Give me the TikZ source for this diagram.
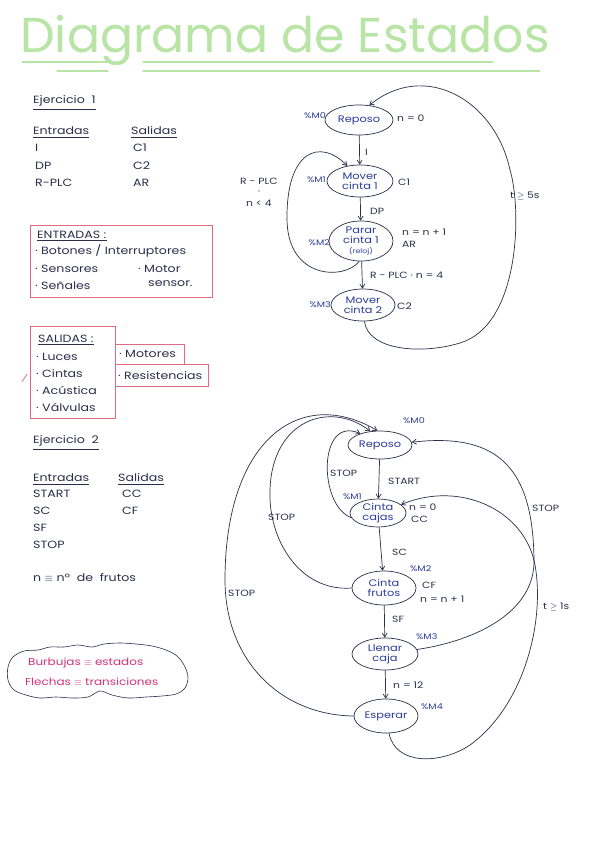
\documentclass[tikz,border=0pt]{standalone}
\usepackage{fontspec}
\setmainfont{Poppins}[FakeStretch=1.2]
\newfontfamily\titlefont{Poppins}
\usetikzlibrary{shapes.geometric,arrows.meta}
\definecolor{ink}{HTML}{2B2F4A}
\definecolor{navy}{HTML}{2C3C9A}
\definecolor{boxred}{HTML}{E06A80}
\definecolor{titlegreen}{HTML}{B8E4A6}
\definecolor{bubblemag}{HTML}{D2337A}
\tikzset{
  state/.style={ellipse, draw=ink, line width=0.7pt, inner sep=0pt, text=navy,
    font=\fontsize{9.5}{10}\selectfont, align=center},
  arr/.style={draw=ink, line width=0.7pt, -{Straight Barb[length=4pt,width=5pt]}},
  lbl/.style={text=ink, font=\fontsize{9}{10}\selectfont, inner sep=0pt, anchor=west},
  mlbl/.style={text=navy, font=\fontsize{8}{9}\selectfont, inner sep=0pt},
  txt/.style={text=ink, font=\fontsize{10.5}{12}\selectfont, anchor=west, inner sep=0pt},
  ul/.style={draw=ink, line width=0.5pt},
  redbox/.style={draw=boxred, line width=0.8pt},
  tl/.style={draw=titlegreen, line width=1.3pt, line cap=round},
}
\begin{document}
\begin{tikzpicture}[x=1pt,y=-1pt]
\useasboundingbox (0,0) rectangle (599,848);
\fill[white] (0,0) rectangle (599,848);

% title
\node[text=titlegreen, font=\titlefont\fontsize{49}{54}\selectfont, anchor=base, inner sep=0pt] (title) at (285,53) {Diagrama de Estados};
\draw[tl] (22,62) -- (108,62);
\draw[tl] (143,62) -- (493,62);
\draw[tl] (57,71) -- (108,71);
\draw[tl] (143,71) -- (540,71);

% Ejercicio 1 text
\node[txt] (ej1) at (33,101) {Ejercicio\ \ 1};
\draw[ul] ([yshift=-2.5pt]ej1.south west) -- ([yshift=-2.5pt]ej1.south east);
\node[txt] (en1) at (33,131) {Entradas};
\draw[ul] ([yshift=-2pt]en1.south west) -- ([yshift=-2pt]en1.south east);
\node[txt] (sa1) at (131,131) {Salidas};
\draw[ul] ([yshift=-2pt]sa1.south west) -- ([yshift=-2pt]sa1.south east);
\node[txt] (e1a) at (35,148) {I};
\node[txt] (s1a) at (133,148) {C1};
\node[txt] (e1b) at (35,166) {DP};
\node[txt] (s1b) at (133,166) {C2};
\node[txt] (e1c) at (35,183) {R-PLC};
\node[txt] (s1c) at (133,183) {AR};

% ENTRADAS box
\draw[redbox] (30,225) rectangle (212,297);
\node[txt] (bxe) at (37,235) {ENTRADAS :};
\draw[ul] ([yshift=-1.5pt]bxe.south west) -- ([yshift=-1.5pt]bxe.south east);
\node[txt] (bxe1) at (35,251) {· Botones / Interruptores};
\node[txt] (bxe2) at (35,269) {· Sensores};
\node[txt] (bxe3) at (35,286) {· Señales};
\node[txt] (bxe4) at (138,269) {· Motor};
\node[txt] (bxe5) at (148,284) {sensor.};

% SALIDAS boxes
\draw[redbox] (30,326) rectangle (115,418);
\draw[redbox] (115,344) rectangle (184,364);
\draw[redbox] (115,364) rectangle (208,386);
\node[txt] (bxs) at (38,339) {SALIDAS :};
\draw[ul] ([yshift=-1.5pt]bxs.south west) -- ([yshift=-1.5pt]bxs.south east);
\node[txt] (bxs1) at (36,357) {· Luces};
\node[txt] (bxs2) at (36,374) {· Cintas};
\node[txt] (bxs3) at (36,390) {· Acústica};
\node[txt] (bxs4) at (36,407) {· Válvulas};
\node[txt] (bxs5) at (119,354) {· Motores};
\node[txt] (bxs6) at (118,376) {· Resistencias};
\draw[draw=boxred, line width=0.7pt] (22,382) -- (27,374);

% Ejercicio 2 text
\node[txt] (ej2) at (33,441) {Ejercicio\ \ 2};
\draw[ul] ([yshift=-2.5pt]ej2.south west) -- ([yshift=-2.5pt]ej2.south east);
\node[txt] (en2) at (33,478) {Entradas};
\draw[ul] ([yshift=-2pt]en2.south west) -- ([yshift=-2pt]en2.south east);
\node[txt] (sa2) at (118,478) {Salidas};
\draw[ul] ([yshift=-2pt]sa2.south west) -- ([yshift=-2pt]sa2.south east);
\node[txt] (e2a) at (33,494) {START};
\node[txt] (s2a) at (122,494) {CC};
\node[txt] (e2b) at (33,511) {SC};
\node[txt] (s2b) at (122,511) {CF};
\node[txt] (e2c) at (33,528) {SF};
\node[txt] (e2d) at (33,545) {STOP};
\node[txt] (nfr) at (33,578) {n $\equiv$ nº\ \ de\ \ frutos};

% cloud
\draw[ink, line width=0.6pt] plot[smooth cycle, tension=0.55] coordinates {
 (8,667) (13,657) (24,651) (38,650) (50,647) (64,647) (78,645) (92,647)
 (104,644) (120,643) (136,644) (152,646) (166,650) (177,656) (184,665)
 (188,677) (185,688) (176,694) (162,696) (146,697) (128,698) (112,695)
 (100,691) (88,697) (72,698) (56,697) (40,698) (26,695) (14,690) (8,680)};
\node[text=bubblemag, font=\fontsize{10}{11}\selectfont, anchor=west, inner sep=0pt] (cl1) at (28,663) {Burbujas $\equiv$ estados};
\node[text=bubblemag, font=\fontsize{10}{11}\selectfont, anchor=west, inner sep=0pt] (cl2) at (25,682) {Flechas $\equiv$ transiciones};

% ===== Diagram 1 =====
\node[state, minimum width=68pt, minimum height=30pt] (r1) at (359,120) {Reposo};
\node[state, minimum width=66pt, minimum height=32pt] (m1) at (360,181) {Mover\\cinta 1};
\node[state, minimum width=64pt, minimum height=40pt] (p1) at (361,241) {Parar\\cinta 1\\{\fontsize{6.5}{7}\selectfont(reloj)}};
\node[state, minimum width=64pt, minimum height=32pt] (m2) at (363,305) {Mover\\cinta 2};

\draw[arr] (r1) -- (m1);
\draw[arr] (m1) -- (p1);
\draw[arr] (p1) -- (m2);
\draw[arr] (p1.265) .. controls (345,280) and (288,280) .. (287,220)
   .. controls (286,150) and (320,138) .. (m1.130);
\draw[arr] (m2.275) .. controls (368,350) and (420,355) .. (460,343)
   .. controls (520,325) and (522,210) .. (510,170)
   .. controls (495,100) and (425,60) .. (r1.55);

\node[mlbl, anchor=east] (mm0) at (326,116) {\%M0};
\node[lbl] (ln0) at (397,118) {n = 0};
\node[lbl] (lI) at (365,152) {I};
\node[mlbl, anchor=east] (mm1) at (326,180) {\%M1};
\node[lbl] (lc1) at (398,182) {C1};
\node[lbl] (lrp) at (240,181) {R - PLC};
\node[lbl, anchor=center, font=\fontsize{9}{9}\selectfont] (ldot) at (259,193) {·};
\node[lbl] (ln4) at (246,203) {n < 4};
\node[lbl] (ldp) at (370,211) {DP};
\node[mlbl, anchor=east] (mm2) at (330,243) {\%M2};
\node[lbl] (lnn) at (402,232) {n = n + 1};
\node[lbl] (lar) at (402,244) {AR};
\node[lbl] (lrp4) at (370,275) {R - PLC · n = 4};
\node[mlbl, anchor=east] (mm3) at (331,305) {\%M3};
\node[lbl] (lc2) at (397,306) {C2};
\node[lbl] (lt5) at (510,196) {t $\geq$ 5s};

% ===== Diagram 2 =====
\node[state, minimum width=64pt, minimum height=28pt] (r2) at (380,445) {Reposo};
\node[state, minimum width=56pt, minimum height=28pt] (cc) at (378,513) {Cinta\\cajas};
\node[state, minimum width=64pt, minimum height=34pt] (cf) at (384,588) {Cinta\\frutos};
\node[state, minimum width=66pt, minimum height=32pt] (lc) at (385,654) {Llenar\\caja};
\node[state, minimum width=64pt, minimum height=34pt] (es) at (386,716) {Esperar};

\draw[arr] (r2) -- (cc);
\draw[arr] (cc) -- (cf);
\draw[arr] (cf) -- (lc);
\draw[arr] (lc) -- (es);
% STOP arcs
\draw[arr] (cc.190) .. controls (318,505) and (318,415) .. (r2.150);
\draw[arr] (cf.180) .. controls (300,592) and (268,540) .. (270,490)
   .. controls (272,420) and (330,400) .. (r2.125);
\draw[arr] (es.180) .. controls (280,715) and (225,660) .. (225,580)
   .. controls (225,440) and (300,385) .. (r2.100);
\draw[arr] (lc.8) .. controls (480,640) and (535,610) .. (534,560)
   .. controls (533,470) and (500,432) .. (r2.5);
% t >= 1s
\draw[arr] (es.280) .. controls (395,765) and (440,765) .. (470,745)
   .. controls (525,705) and (545,620) .. (535,565)
   .. controls (525,510) and (460,480) .. (cc.20);

\node[mlbl, anchor=west] (mm0b) at (403,421) {\%M0};
\node[lbl] (lstop1) at (330,473) {STOP};
\node[lbl] (lstart) at (388,481) {START};
\node[mlbl, anchor=east] (mm1b) at (362,497) {\%M1};
\node[lbl] (ln0b) at (409,507) {n = 0};
\node[lbl] (lccb) at (411,519) {CC};
\node[lbl] (lstop4) at (532,508) {STOP};
\node[lbl] (lstop2) at (268,517) {STOP};
\node[lbl] (lsc) at (392,552) {SC};
\node[mlbl, anchor=west] (mm2b) at (410,569) {\%M2};
\node[lbl] (lcf) at (422,585) {CF};
\node[lbl] (lnn1) at (420,599) {n = n + 1};
\node[lbl] (lstop3) at (228,593) {STOP};
\node[lbl] (lt1) at (543,607) {t $\geq$ 1s};
\node[lbl] (lsf) at (392,619) {SF};
\node[mlbl, anchor=west] (mm3b) at (416,637) {\%M3};
\node[lbl] (ln12) at (393,685) {n = 12};
\node[mlbl, anchor=west] (mm4b) at (421,707) {\%M4};
\end{tikzpicture}
\end{document}
